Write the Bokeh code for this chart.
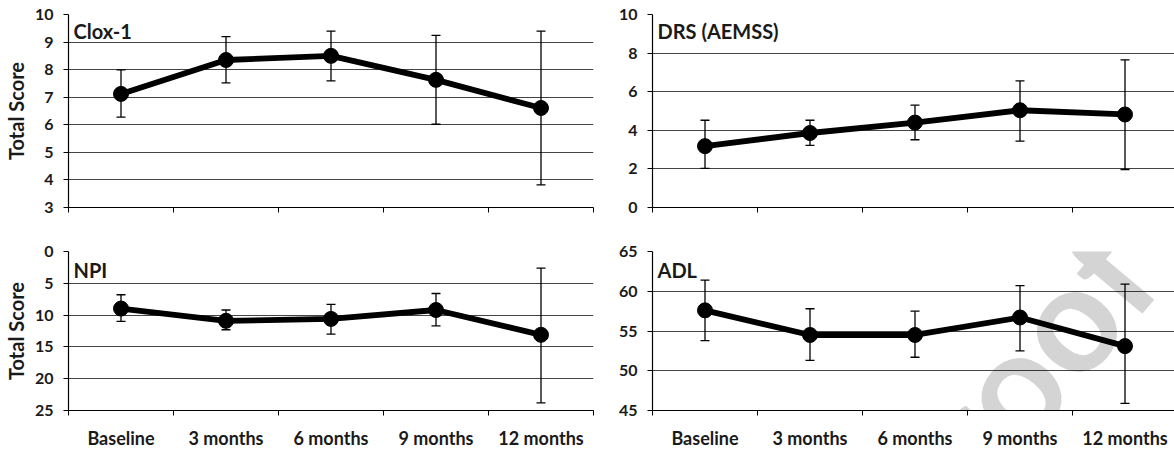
from bokeh.plotting import figure
from bokeh.models import Range1d, FixedTicker, ColumnDataSource, Whisker, TeeHead, Label
from bokeh.layouts import row, column
from bokeh.embed import file_html
from bokeh.resources import INLINE

# ---------------- data ----------------
categories = ["Baseline", "3 months", "6 months", "9 months", "12 months"]

clox_mean = [7.12, 8.35, 8.50, 7.63, 6.61]
clox_upper = [7.99, 9.20, 9.40, 9.24, 9.40]
clox_lower = [6.28, 7.52, 7.59, 6.02, 3.82]

drs_mean = [3.18, 3.86, 4.40, 5.04, 4.82]
drs_upper = [4.52, 4.52, 5.30, 6.56, 7.65]
drs_lower = [2.03, 3.22, 3.51, 3.44, 1.97]

npi_mean = [8.97, 10.90, 10.60, 9.20, 13.10]
npi_upper = [6.80, 9.20, 8.30, 6.60, 2.60]
npi_lower = [11.00, 12.30, 13.00, 11.70, 23.80]

adl_mean = [57.6, 54.5, 54.5, 56.7, 53.1]
adl_upper = [61.4, 57.8, 57.5, 60.7, 60.9]
adl_lower = [53.8, 51.3, 51.7, 52.5, 45.9]

clox_ticks = [3, 4, 5, 6, 7, 8, 9, 10]
drs_ticks = [0, 2, 4, 6, 8, 10]
npi_ticks = [0, 5, 10, 15, 20, 25]
adl_ticks = [45, 50, 55, 60, 65]

FONT = "Lato"
GRID = "#444444"
TXT = "#1a1a1a"

n = len(categories)
centers = [i + 0.5 for i in range(n)]
bounds = [float(i) for i in range(n + 1)]


def panel(title, mean, upper, lower, y_start, y_end, yticks, width, height,
          mb_left, mb_right, mb_top, mb_bottom, x_end, show_xlabels, ylabel,
          title_dy):
    p = figure(width=width, height=height,
               x_range=Range1d(0, x_end), y_range=Range1d(y_start, y_end),
               output_backend="svg", toolbar_location=None,
               min_border_left=mb_left, min_border_right=mb_right,
               min_border_top=mb_top, min_border_bottom=mb_bottom)
    p.outline_line_color = None
    p.background_fill_color = "white"
    p.border_fill_color = "white"
    p.xgrid.visible = False
    p.ygrid.grid_line_color = GRID
    p.ygrid.grid_line_width = 1.2
    p.ygrid.ticker = FixedTicker(ticks=yticks)

    ya = p.yaxis[0]
    ya.ticker = FixedTicker(ticks=yticks)
    ya.axis_line_color = "black"
    ya.axis_line_width = 1.2
    ya.major_tick_in = 0
    ya.major_tick_out = 5
    ya.major_tick_line_color = "black"
    ya.minor_tick_line_color = None
    ya.major_label_text_font = FONT
    ya.major_label_text_font_style = "bold"
    ya.major_label_text_font_size = "16px"
    ya.major_label_text_color = TXT
    ya.major_label_standoff = 10
    if ylabel:
        ya.axis_label = ylabel
        ya.axis_label_text_font = FONT
        ya.axis_label_text_font_style = "bold"
        ya.axis_label_text_font_size = "20px"
        ya.axis_label_text_color = TXT
        ya.axis_label_standoff = 4

    xa = p.xaxis[0]
    xa.axis_line_color = "black"
    xa.axis_line_width = 1.2
    xa.major_tick_line_color = None
    xa.minor_tick_line_color = "black"
    xa.minor_tick_in = 0
    xa.minor_tick_out = 5
    if show_xlabels:
        xa.ticker = FixedTicker(ticks=centers, minor_ticks=bounds)
        xa.major_label_overrides = {c: cat for c, cat in zip(centers, categories)}
        xa.major_label_text_font = FONT
        xa.major_label_text_font_style = "bold"
        xa.major_label_text_color = TXT
        xa.major_label_text_font_size = "18px"
        xa.major_label_standoff = 10
    else:
        xa.ticker = FixedTicker(ticks=[], minor_ticks=bounds)

    src = ColumnDataSource(dict(x=centers, mean=mean, upper=upper, lower=lower))
    w = Whisker(base="x", upper="upper", lower="lower", source=src,
                line_color="black", line_width=1.3,
                upper_head=TeeHead(size=9, line_color="black", line_width=1.3),
                lower_head=TeeHead(size=9, line_color="black", line_width=1.3))
    p.add_layout(w)
    p.line("x", "mean", source=src, line_color="black", line_width=5.8)
    p.scatter("x", "mean", source=src, size=15, color="black")

    p.add_layout(Label(x=0, y=y_end, x_offset=5, y_offset=title_dy, text=title,
                       text_font=FONT, text_font_style="bold",
                       text_font_size="20px", text_color=TXT,
                       text_baseline="top", text_align="left"))
    return p


# left figures: 68 + 525 + 17 ; right figures: 42 + 522
W1, W2 = 610, 564
H1, H2 = 229, 222
x_end_right = 522 / 105.0

p1 = panel("Clox-1", clox_mean, clox_upper, clox_lower, 3, 10, clox_ticks,
           W1, H1, 68, 17, 14, 22, 5, False, "Total Score", -4)
p2 = panel("DRS (AEMSS)", drs_mean, drs_upper, drs_lower, 0, 10, drs_ticks,
           W2, H1, 42, 0, 14, 22, x_end_right, False, None, -4)
p3 = panel("NPI", npi_mean, npi_upper, npi_lower, 25, 0, npi_ticks,
           W1, H2, 68, 17, 22, 38, 5, True, "Total Score", -6)
p4 = panel("ADL", adl_mean, adl_upper, adl_lower, 45, 65, adl_ticks,
           W2, H2, 42, 0, 22, 38, x_end_right, True, None, -6)

# faint "Proof" watermark across the lower-right panel
wm = Label(x=3.35, y=47.8, text="Proof", angle=50, angle_units="deg",
           text_font=FONT, text_font_style="bold", text_font_size="150px",
           text_color="black", text_alpha=0.17,
           text_align="center", text_baseline="middle", level="overlay")
p4.add_layout(wm)

layout = column(row(p1, p2), row(p3, p4))

with open("out.html", "w") as f:
    f.write(file_html(layout, INLINE))
